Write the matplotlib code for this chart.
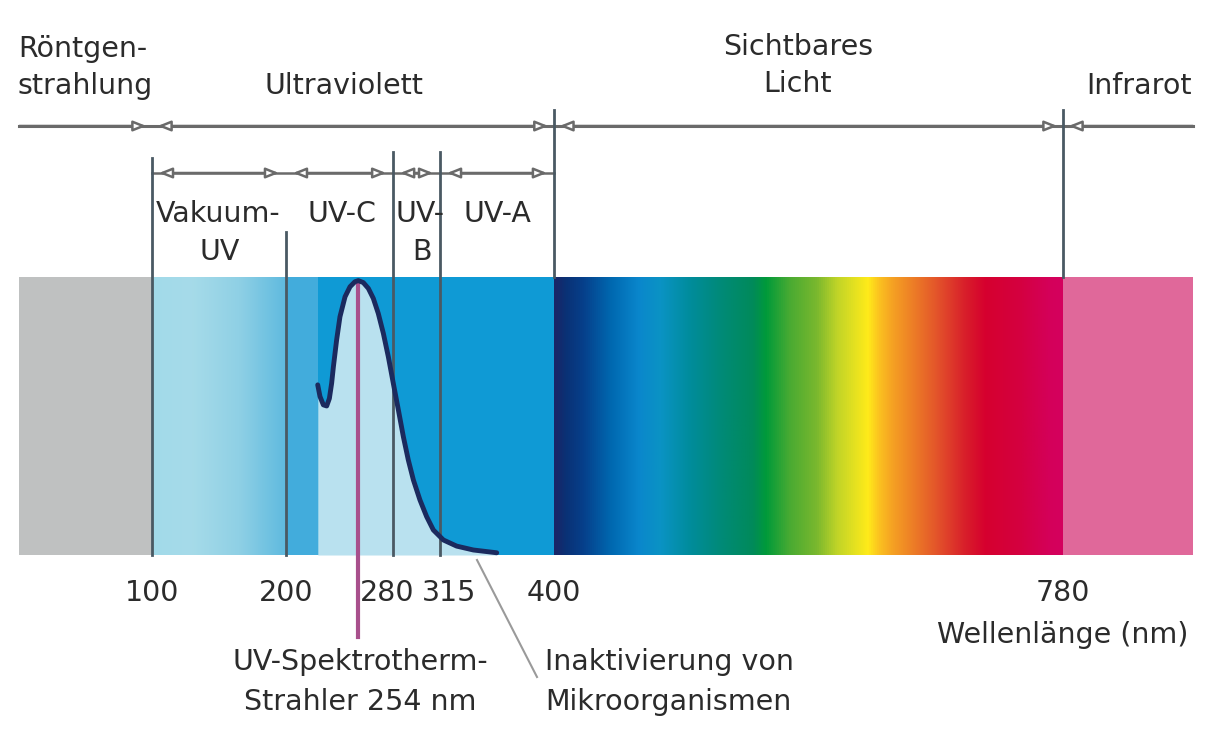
import matplotlib.pyplot as plt
import numpy as np
from matplotlib.colors import LinearSegmentedColormap

# wavelength boundaries (nm)
xray_start = 1
ir_end = 877
main_bounds = [xray_start, 100, 400, 780, ir_end]
main_labels = ['Röntgen-\nstrahlung', 'Ultraviolett', 'Sichtbares\nLicht', 'Infrarot']
uv_bounds = [100, 200, 280, 315, 400]
uv_labels = ['Vakuum-\nUV', 'UV-C', 'UV-\nB', 'UV-A']
tick_values = [100, 200, 280, 315, 400, 780]
lamp_nm = 254

# gradient stops (nm, colour)
vuv_stops = [(100, '#a2daea'), (130, '#a6dbe9'), (165, '#8fd0e5'), (200, '#5fbadf')]
vis_stops = [(400, '#1b2566'), (408, '#0a3175'), (421, '#063f8a'), (442, '#0068b0'),
             (463, '#0a87cc'), (479, '#0a93c4'), (502, '#008c9a'), (524, '#008a78'),
             (548, '#008a5a'), (558, '#009a3a'), (576, '#4aab32'), (596, '#7ab82e'),
             (611, '#c0d428'), (634, '#ffeb1a'), (643, '#fbc020'), (653, '#f5a023'),
             (684, '#e4582a'), (707, '#d81e2a'), (722, '#d6002f'), (748, '#d40040'),
             (770, '#d4005a'), (780, '#d5005e')]

# inactivation curve of microorganisms (nm, relative)
curve_nm = [223.7, 225.4, 227.9, 230.4, 232.4, 234.1, 235.4, 237.8, 240.3, 244.1,
            247.8, 251.5, 254.0, 257.7, 261.5, 265.2, 268.9, 272.7, 276.4, 280.1,
            283.9, 287.6, 291.3, 295.1, 300.0, 305.0, 310.0, 317.5, 327.4, 339.9, 357.3]
curve_rel = [0.612, 0.570, 0.540, 0.536, 0.563, 0.618, 0.677, 0.773, 0.857, 0.929,
             0.965, 0.983, 0.987, 0.980, 0.959, 0.923, 0.869, 0.797, 0.713, 0.618,
             0.522, 0.426, 0.342, 0.270, 0.198, 0.138, 0.090, 0.054, 0.032, 0.018, 0.008]


# layout helpers: picture pixels -> axis coords
def px(p):
    return 100 + (p - 152) / 1.3397


def py(p):
    return (555 - p) / 278.0


plt.rcParams['font.family'] = ['DejaVu Sans']
fs = 20.5
tc = '#2b2b2b'
lc = '#4a5963'

fig = plt.figure(figsize=(12.06, 7.53), dpi=100)
ax = fig.add_axes([0, 0, 1, 1])
ax.set_xlim(px(0), px(1206))
ax.set_ylim(py(753), py(0))
ax.axis('off')

# band
ax.fill_between([xray_start, 100], 0, 1, color='#bfc1c1', lw=0)
vuv_cmap = LinearSegmentedColormap.from_list(
    'vuv', [((n - 100) / 100, c) for n, c in vuv_stops])
ax.imshow(np.linspace(0, 1, 256)[None, :], cmap=vuv_cmap, aspect='auto',
          extent=(100, 200, 0, 1), interpolation='bilinear', zorder=1)
ax.fill_between([200, curve_nm[0]], 0, 1, color='#42acdc', lw=0, zorder=1)
ax.fill_between([curve_nm[0], 400], 0, 1, color='#0f9ad5', lw=0, zorder=1)
vis_cmap = LinearSegmentedColormap.from_list(
    'vis', [((n - 400) / 380, c) for n, c in vis_stops])
ax.imshow(np.linspace(0, 1, 512)[None, :], cmap=vis_cmap, aspect='auto',
          extent=(400, 780, 0, 1), interpolation='bilinear', zorder=1)
ax.fill_between([780, ir_end], 0, 1, color='#e0689a', lw=0, zorder=1)

# light area under curve
ax.fill_between(curve_nm, 0, curve_rel, color='#b9e1ef', lw=0, zorder=2)

# vertical separators
ax.plot([100, 100], [py(158), 0], color=lc, lw=2, zorder=3)
ax.plot([200, 200], [py(232), 0], color=lc, lw=2, zorder=3)
ax.plot([280, 280], [py(152), 0], color=lc, lw=2, zorder=3)
ax.plot([315, 315], [py(152), 0], color=lc, lw=2, zorder=3)
ax.plot([400, 400], [py(110), 1], color=lc, lw=2, zorder=3)
ax.plot([780, 780], [py(110), 1], color=lc, lw=2, zorder=3)

# lamp line
ax.plot([lamp_nm, lamp_nm], [0.98, py(637)], color='#a8508c', lw=3, zorder=4)
# curve
ax.plot(curve_nm, curve_rel, color='#1b2a5e', lw=3.5, solid_capstyle='round',
        solid_joinstyle='round', zorder=5)

# arrows
def arrow_row(bounds, y, shrink, open_ends):
    for i in range(len(bounds) - 1):
        a, b = bounds[i], bounds[i + 1]
        left = not (open_ends and i == 0)
        right = not (open_ends and i == len(bounds) - 2)
        style = {(True, True): '<|-|>', (False, True): '-|>', (True, False): '<|-'}[(left, right)]
        ax.annotate('', xy=(b, y), xytext=(a, y),
                    arrowprops=dict(arrowstyle=style + ',head_length=0.55,head_width=0.22',
                                    fc='white', ec='#6a6a6a', lw=1.8, mutation_scale=14,
                                    shrinkA=shrink if left else 0,
                                    shrinkB=shrink if right else 0),
                    zorder=3)

ax.plot([xray_start, ir_end], [py(126), py(126)], color='#6a6a6a', lw=2.2, zorder=2)
arrow_row(main_bounds, py(126), 4, True)
ax.plot([100, 400], [py(173), py(173)], color='#6a6a6a', lw=1.8, zorder=2)
arrow_row(uv_bounds, py(173), 5, False)

# region labels
tkw = dict(fontsize=fs, color=tc)
ax.text(px(18), py(57), 'Röntgen-', ha='left', va='baseline', **tkw)
ax.text(px(18), py(94), 'strahlung', ha='left', va='baseline', **tkw)
ax.text(px(344), py(94), main_labels[1], ha='center', va='baseline', **tkw)
ax.text(px(798), py(55), 'Sichtbares', ha='center', va='baseline', **tkw)
ax.text(px(798), py(92), 'Licht', ha='center', va='baseline', **tkw)
ax.text(px(1192), py(94), main_labels[3], ha='right', va='baseline', **tkw)

ax.text(px(218), py(222), 'Vakuum-', ha='center', va='baseline', **tkw)
ax.text(px(220), py(260), 'UV', ha='center', va='baseline', **tkw)
ax.text(px(342), py(222), uv_labels[1], ha='center', va='baseline', **tkw)
ax.text(px(395), py(222), 'UV-', ha='left', va='baseline', **tkw)
ax.text(px(422), py(260), 'B', ha='center', va='baseline', **tkw)
ax.text(px(497), py(222), uv_labels[3], ha='center', va='baseline', **tkw)

# tick labels
tick_shift = {280: -6, 315: 9}
for v in tick_values:
    xx = px(152 + (v - 100) * 1.3397 + tick_shift.get(v, 0))
    ax.text(xx, py(601), str(v), ha='center', va='baseline', **tkw)
ax.text(px(1188), py(643), 'Wellenlänge (nm)', ha='right', va='baseline', **tkw)

# annotations
ax.text(px(360), py(670), 'UV-Spektrotherm-', ha='center', va='baseline', **tkw)
ax.text(px(360), py(710), 'Strahler 254 nm', ha='center', va='baseline', **tkw)
ax.plot([px(477), px(537)], [py(560), py(677)], color='#9a9a9a', lw=1.5, zorder=3)
ax.text(px(545), py(670), 'Inaktivierung von', ha='left', va='baseline', **tkw)
ax.text(px(545), py(710), 'Mikroorganismen', ha='left', va='baseline', **tkw)

fig.savefig('out.png', dpi=100, facecolor='white')
